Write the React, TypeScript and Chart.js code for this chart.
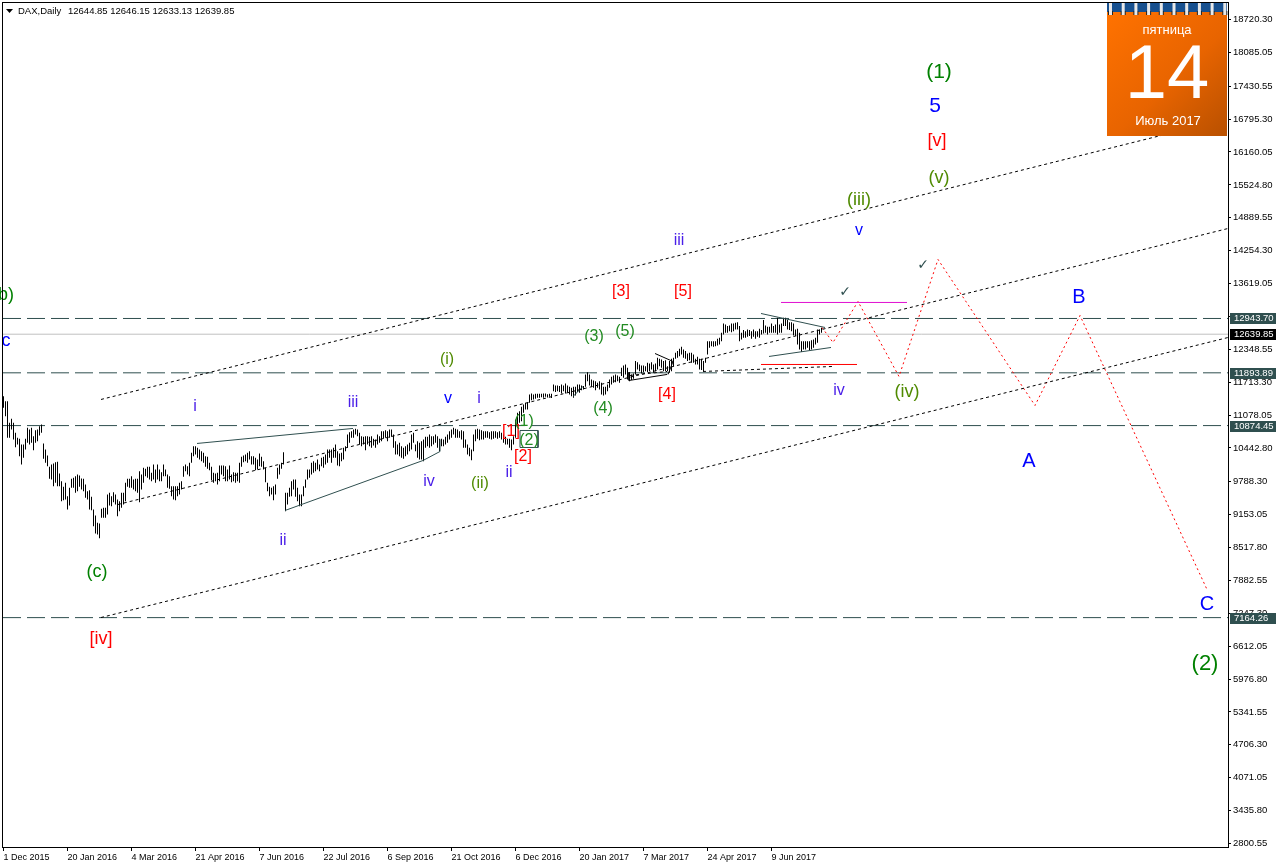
import React, { useEffect, useRef } from "react";
import { Chart, registerables } from "chart.js";

Chart.register(...registerables);

const highs: number[] = [
11443,11346,11346,10928,11005,10928,10735,10638,10619,10509,10509,10619,10831,10799,10831,10670,10786,10799,10863,10896,
10529,10413,10297,10078,10123,10142,10168,10174,9949,9801,9691,9769,9511,9672,9846,9865,9897,9930,9910,9852,
9846,9736,9608,9627,9498,9253,9137,8996,8983,9266,9286,9286,9543,9575,9511,9588,9543,9447,9414,9575,
9575,9769,9846,9846,9897,9833,9846,9846,9994,9930,10058,10039,10078,10078,9962,10123,10026,10123,10026,9975,
10123,10026,9930,9897,9704,9704,9704,9704,9769,9801,10091,10123,10091,10155,10348,10477,10477,10445,10413,10380,
10348,10284,10271,10155,10078,9962,9949,9962,10104,10104,10104,10091,10026,10104,9930,9975,9962,9962,10155,10271,
10297,10316,10348,10380,10284,10284,10252,10220,10335,10271,10187,10058,9769,9691,9672,9704,9736,10058,10123,10155,
10361,9575,9575,9672,9801,9833,9833,9672,9543,
9543,9704,9833,10026,10026,10155,10187,10155,10220,10123,10252,10271,10316,10413,10413,10413,10445,10509,10380,10335,
10348,10445,10477,10702,10747,10767,10799,10812,10799,10735,10670,10657,10670,10670,10657,10670,10619,10606,10702,10670,
10767,10767,10786,10767,10799,10799,10702,10574,10509,10541,10477,10445,10477,10509,10541,10702,10735,10509,10574,10541,
10574,10606,10657,10657,10702,10670,10670,10702,10670,10619,10619,10606,10657,10702,10767,10799,10831,10812,10799,10767,
10786,10767,10606,10509,10445,10413,10702,10799,10812,10799,10786,10767,10767,10767,10747,10767,10767,10767,10747,10767,
10735,10702,10657,10619,10619,10606,10670,10992,11121,11153,11237,11282,11314,11327,11475,11495,
11476,11488,11488,11488,11488,11495,11495,11482,11488,11488,11669,11650,11650,11637,11669,11650,11688,11650,11624,11604,
11624,11624,11669,11669,11650,11637,11862,11907,11862,11765,11746,11733,11701,11733,11701,11624,11624,11669,11765,11817,
11843,11862,11843,11817,11991,12036,12055,11991,11907,11862,11881,12120,12100,12055,12036,12036,12023,12087,12075,12100,
12055,12075,12184,12165,12152,12120,12139,12023,12120,12165,12184,12281,12313,12358,12397,12345,12313,12268,12281,12281,
12248,12165,12203,12165,12165,12120,12184,12506,12506,12506,12506,12506,12551,12570,12667,12847,12828,12796,12809,12847,
12847,12860,12873,12796,12667,12719,12699,12731,12719,12699,12731,12699,12699,12744,12719,12912,12809,12783,12783,12847,
12796,12828,12957,12828,12847,12957,12957,12912,12873,12873,12847,12731,12744,12667,12506,12506,12506,12506,12506,12525,
12538,12570,12731,12731,12763,
];

const lows: number[] = [
11218,11057,10638,10638,10799,10606,10458,10509,10284,10123,10252,10413,10541,10509,10541,10400,10541,10574,10683,10735,
10232,10155,10091,9846,9833,9704,9769,9704,9704,9414,9434,9447,9253,9331,9672,9672,9575,9608,9691,9640,
9608,9479,9447,9253,9241,8931,8790,8770,8700,9092,9092,9092,9157,9331,9318,9395,9350,9125,9221,9286,
9350,9414,9691,9672,9672,9640,9608,9575,9395,9640,9769,9897,9865,9833,9801,9833,9769,9833,9801,9801,
9897,9897,9672,9653,9511,9447,9434,9511,9543,9640,9885,9994,9930,9897,10155,10284,10316,10252,10220,10187,
10155,10078,10039,10013,9820,9769,9801,9736,9801,9930,9897,9801,9801,9833,9781,9801,9769,9801,9769,10078,
10168,10187,10155,10220,10123,10123,10013,10026,10091,10078,10026,9781,9608,9511,9543,9434,9543,9846,9930,10039,
10123,9221,9350,9498,9511,9640,9498,9414,9318,
9318,9511,9672,9833,9865,9930,9962,9994,10026,9994,10091,10058,10123,10155,10252,10155,10252,10252,10104,10091,
10187,10220,10380,10445,10541,10638,10638,10702,10670,10509,10477,10509,10400,10509,10477,10445,10490,10445,10509,10541,
10574,10619,10638,10574,10638,10657,10445,10316,10316,10284,10252,10232,10284,10316,10380,10413,10541,10380,10252,10220,
10220,10187,10445,10477,10445,10477,10509,10541,10445,10380,10477,10477,10509,10541,10606,10638,10702,10638,10638,10638,
10606,10445,10445,10316,10284,10207,10380,10574,10619,10593,10606,10606,10638,10638,10619,10606,10619,10638,10619,10638,
10606,10541,10509,10509,10445,10400,10509,10638,10863,10928,10960,11121,11185,11185,11314,11366,
11379,11392,11411,11411,11424,11411,11430,11418,11430,11405,11540,11521,11540,11521,11495,11540,11495,11508,11476,11443,
11411,11456,11521,11508,11559,11572,11624,11733,11650,11624,11604,11559,11604,11572,11476,11456,11476,11540,11604,11669,
11701,11714,11733,11701,11830,11798,11862,11765,11733,11753,11778,11862,11959,11926,11881,11907,11926,11907,11926,11959,
11894,11926,11959,12023,11991,11926,11926,11926,11894,11926,12023,12165,12184,12216,12248,12184,12165,12120,12139,12087,
12087,12055,12055,11959,11946,11926,12087,12248,12377,12409,12397,12409,12422,12442,12506,12635,12667,12667,12699,12680,
12699,12731,12731,12506,12538,12570,12570,12590,12603,12551,12590,12551,12590,12570,12635,12654,12667,12635,12667,12667,
12667,12667,12635,12667,12667,12796,12796,12731,12719,12699,12615,12603,12442,12345,12294,12345,12345,12377,12332,12345,
12377,12442,12474,12635,12667,
];

const yTickValues = [18720.30,18085.05,17430.55,16795.30,16160.05,15524.80,14889.55,14254.30,13619.05,12983.80,12348.55,11713.30,11078.05,10442.80,9788.30,9153.05,8517.80,7882.55,7247.30,6612.05,5976.80,5341.55,4706.30,4071.05,3435.80,2800.55];
const dateBars = [0,32,64,96,128,160,192,224,256,288,320,352,384];
const dateLabels = ["1 Dec 2015","20 Jan 2016","4 Mar 2016","21 Apr 2016","7 Jun 2016","22 Jul 2016","6 Sep 2016","21 Oct 2016","6 Dec 2016","20 Jan 2017","7 Mar 2017","24 Apr 2017","9 Jun 2017"];

const levels = [12943.70, 11893.89, 10874.45, 7164.26];
const lastPrice = 12639.85;

type P = [number, number];
const channelTop: P[] = [[48.75,11379],[580.75,16498]];
const channelMid: P[] = [[57.25,9350],[612.25,14682]];
const channelLow: P[] = [[48.75,7166],[612.25,12576]];
const dashRecent: P[] = [[349.75,11920],[414.25,12016]];
const dashSmall: P[] = [[313.25,11843],[331.75,11920]];
const wedgeA: P[] = [[96.75,10529],[174.75,10819]];
const wedgeB: P[] = [[140.75,9234],[209.75,10200],[218.25,10374],[218.25,10606]];
const triUpper: P[] = [[378.75,13040],[410.75,12770]];
const triLower: P[] = [[382.75,12210],[413.75,12383]];
const flagA: P[] = [[312.75,11900],[312.75,11746],[331.75,11862]];
const flagB: P[] = [[325.75,12267],[334.75,12113],[332.25,11862]];
const flagC: P[] = [[284.75,11437],[289.75,11630]];
const redLevel: P[] = [[378.75,12055],[426.75,12055]];
const magentaLevel: P[] = [[388.75,13253],[451.75,13253]];
const labelBox: P[] = [[258.25,10780],[267.25,10780],[267.25,10451],[258.25,10451],[258.25,10780]];
const forecast: P[] = [[409.25,12770],[414.75,12480],[427.25,13272],[447.75,11823],[467.25,14084],[515.75,11263],[538.25,13001],[601.75,7708]];

const PURPLE = "#4a1fe8", BLUE = "#0000ff", RED = "#ff0000", GREEN = "#008000", OLIVE = "#4f8a00", LEAF = "#228b22";
type L = [string, number, number, string, number];
const waveLabels: L[] = [
  ["(1)",467.75,17695,GREEN,21],["5",465.75,17038,BLUE,21],["[v]",466.75,16381,RED,18],["(v)",467.75,15666,OLIVE,18],
  ["(iii)",427.75,15241,OLIVE,18],["v",427.75,14642,BLUE,16],["iii",337.75,14449,PURPLE,16],["[3]",308.75,13464,RED,16],
  ["[5]",339.75,13464,RED,16],["(3)",295.25,12594,LEAF,16],["(5)",310.75,12691,LEAF,16],["(i)",221.75,12150,OLIVE,16],
  ["v",222.25,11397,BLUE,16],["i",237.75,11397,PURPLE,16],["i",95.75,11242,PURPLE,16],["iii",174.75,11319,PURPLE,16],
  ["[1]",253.75,10759,RED,16],["(1)",260.25,10952,LEAF,16],["(2)",262.75,10585,LEAF,16],["[2]",259.75,10276,RED,16],
  ["ii",252.75,9967,PURPLE,16],["iv",212.75,9793,PURPLE,16],["(ii)",238.25,9755,OLIVE,16],["ii",139.75,8653,PURPLE,16],
  ["(c)",46.75,8054,GREEN,18],["[iv]",48.75,6760,RED,18],["(4)",299.75,11204,LEAF,16],["[4]",331.75,11474,RED,16],
  ["iv",417.75,11551,PURPLE,16],["(iv)",451.75,11532,OLIVE,18],["A",512.75,10180,BLUE,20],["B",537.75,13348,BLUE,20],
  ["C",601.75,7417,BLUE,20],["(2)",600.75,6277,GREEN,22],["(b)",-0.25,13406,GREEN,18],["c",1.25,12517,BLUE,18],
  ["\u2713",420.75,13444,"#2f4f4f",14],["\u2713",459.75,13966,"#2f4f4f",14],
];

const SANS = '"Liberation Sans", Arial, sans-serif';
const line = (pts: P[], color: string, dash: number[] = []) => ({
  type: "line" as const,
  data: pts.map(([x, y]) => ({ x, y })),
  borderColor: color,
  borderWidth: 1,
  borderDash: dash,
  pointRadius: 0,
  tension: 0,
  fill: false,
});
const span = (y: number): P[] => [[-0.25, y], [612.25, y]];

const chartDecor = {
  id: "chartDecor",
  afterDatasetsDraw(chart: any) {
    const { ctx, scales: { x, y } } = chart;
    ctx.save();
    ctx.textAlign = "center";
    ctx.textBaseline = "middle";
    for (const [t, b, p, c, s] of waveLabels) {
      ctx.font = `${s}px ${t === "\u2713" ? '"DejaVu Sans"' : SANS}`;
      ctx.fillStyle = c;
      ctx.fillText(t, x.getPixelForValue(b), y.getPixelForValue(p));
    }
    const g = ctx.createLinearGradient(1107, 12, 1227, 136);
    g.addColorStop(0, "#ff7200");
    g.addColorStop(0.55, "#e86400");
    g.addColorStop(1, "#b85000");
    ctx.fillStyle = g;
    ctx.fillRect(1107, 12, 120, 124);
    ctx.fillStyle = "#17508f";
    ctx.fillRect(1107, 3, 120, 9);
    for (let i = 0; i < 10; i++) {
      const rx = 1108 + i * 12.7;
      ctx.fillStyle = "#222";
      ctx.fillRect(rx, 11, 5, 4);
      ctx.fillStyle = "#e8e8e8";
      ctx.fillRect(rx + 1, 3, 3, 12);
    }
    ctx.fillStyle = "#fff";
    ctx.font = `13px ${SANS}`;
    ctx.fillText("\u043f\u044f\u0442\u043d\u0438\u0446\u0430", 1167, 30);
    ctx.font = `76px ${SANS}`;
    ctx.fillText("14", 1167, 77);
    ctx.font = `13px ${SANS}`;
    ctx.fillText("\u0418\u044e\u043b\u044c 2017", 1168, 121);
    ctx.restore();
  },
  afterDraw(chart: any) {
    const { ctx, scales: { y } } = chart;
    ctx.save();
    ctx.strokeStyle = "#000";
    ctx.lineWidth = 1;
    ctx.strokeRect(2.5, 2.5, 1226, 845);
    ctx.textAlign = "left";
    ctx.textBaseline = "middle";
    ctx.font = `9.5px ${SANS}`;
    const tag = (v: number, bg: string) => {
      const py = Math.round(y.getPixelForValue(v));
      ctx.fillStyle = bg;
      ctx.fillRect(1230, py - 5, 46, 11);
      ctx.fillStyle = "#fff";
      ctx.fillText(v.toFixed(2), 1234, py + 0.5);
    };
    levels.forEach((v) => tag(v, "#2f4f4f"));
    tag(lastPrice, "#000");
    ctx.fillStyle = "#000";
    ctx.beginPath();
    ctx.moveTo(6, 9);
    ctx.lineTo(13, 9);
    ctx.lineTo(9.5, 13);
    ctx.closePath();
    ctx.fill();
    ctx.fillText("DAX,Daily", 18, 11);
    ctx.fillText("12644.85 12646.15 12633.13 12639.85", 68, 11);
    ctx.restore();
  },
};

export default function App() {
  const ref = useRef<HTMLCanvasElement>(null);
  useEffect(() => {
    const chart = new Chart(ref.current as HTMLCanvasElement, {
      type: "bar",
      data: {
        datasets: [
          {
            data: highs.map((h, i) => ({ x: i, y: [lows[i], h] })),
            backgroundColor: "#000",
            borderWidth: 0,
            barThickness: 1,
            inflateAmount: 0,
            order: 1,
          } as any,
          ...levels.map((v) => ({ ...line(span(v), "#2f4f4f", [18, 6]), order: 2 })),
          { ...line(span(lastPrice), "#c0c0c0"), order: 3 },
          ...[
            line(channelTop, "#000", [3, 3]),
            line(channelMid, "#000", [3, 3]),
            line(channelLow, "#000", [3, 3]),
            line(dashRecent, "#000", [3, 3]),
            line(dashSmall, "#000", [3, 3]),
            line(wedgeA, "#2f4f4f"),
            line(wedgeB, "#2f4f4f"),
            line(triUpper, "#2f4f4f"),
            line(triLower, "#2f4f4f"),
            line(flagA, "#000"),
            line(flagB, "#000"),
            line(flagC, "#2f4f4f"),
            line(redLevel, "#ff0000"),
            line(magentaLevel, "#e010d0"),
            line(labelBox, "#2f4f4f"),
            line(forecast, "#ff0000", [2, 3]),
          ].map((d) => ({ ...d, order: 0 })),
        ] as any,
      },
      options: {
        responsive: false,
        animation: false,
        layout: { padding: { left: 3, top: 2, right: 0, bottom: 0 } },
        plugins: { legend: { display: false }, tooltip: { enabled: false } },
        scales: {
          x: {
            type: "linear",
            offset: false,
            min: -0.25,
            max: 612.25,
            afterBuildTicks: (s: any) => { s.ticks = dateBars.map((value) => ({ value })); },
            afterFit: (s: any) => { s.height = 21; s.paddingLeft = 0; s.paddingRight = 0; },
            grid: { drawOnChartArea: false, offset: false, tickLength: 4, color: "#000" },
            border: { display: false },
            ticks: {
              autoSkip: false, maxRotation: 0, align: "start", padding: 1, color: "#000",
              font: { family: SANS, size: 9 },
              callback: (_v: any, i: number) => dateLabels[i],
            },
          },
          y: {
            type: "linear",
            position: "right",
            min: 2732.7,
            max: 19058,
            afterBuildTicks: (s: any) => { s.ticks = yTickValues.map((value) => ({ value })); },
            afterFit: (s: any) => { s.width = 48; s.paddingTop = 0; s.paddingBottom = 0; },
            grid: { drawOnChartArea: false, tickLength: 3, color: "#000" },
            border: { display: false },
            ticks: {
              autoSkip: false, padding: 2, color: "#000",
              font: { family: SANS, size: 9.5 },
              callback: (v: any) => Number(v).toFixed(2),
            },
          },
        },
      } as any,
      plugins: [chartDecor],
    });
    return () => chart.destroy();
  }, []);
  return (
    <canvas
      ref={ref}
      width={1276}
      height={868}
      style={{ position: "fixed", left: 0, top: 0, width: 1276, height: 868, display: "block", background: "#fff" }}
    />
  );
}
